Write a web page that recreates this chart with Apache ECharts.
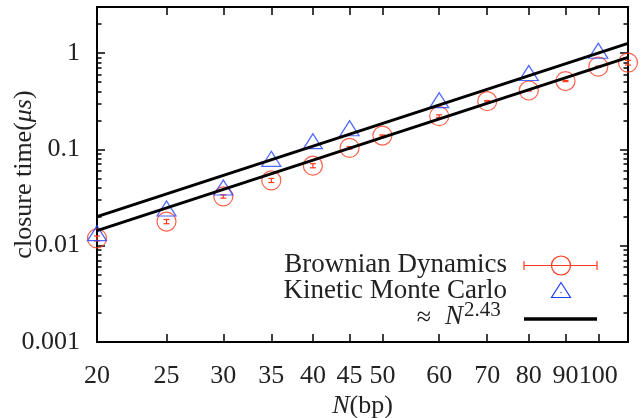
<!DOCTYPE html>
<html>
<head>
<meta charset="utf-8">
<script src="https://cdn.jsdelivr.net/npm/echarts@6/dist/echarts.min.js"></script>
<style>
  html, body { margin: 0; padding: 0; background: #fff; }
  #chart { width: 641px; height: 418px; }
</style>
</head>
<body>
<div id="chart"></div>
<script>
// Chain length N (bp) and closure times (µs)
const nBD = [20, 25, 30, 35, 40, 45, 50, 60, 70, 80, 90, 100, 110];
const timeBD = [0.0119, 0.0178, 0.0324, 0.0475, 0.0676, 0.1035, 0.139, 0.221, 0.316, 0.408, 0.511, 0.721, 0.794];
const errBD = [0.0007, 0.0009, 0.0013, 0.0023, 0.0033, 0.003, 0.002, 0.007, 0.005, 0.006, 0.007, 0.01, 0.045];

const nKMC = [20, 25, 30, 35, 40, 45, 60, 80, 100];
const timeKMC = [0.0127, 0.0229, 0.0378, 0.075, 0.1145, 0.156, 0.305, 0.583, 0.993];

// Power-law fits (~N^2.43), end points across the plotted range
const fitN = [20, 110];
const fitBD = [0.0143, 0.899];
const fitKMC = [0.0200, 1.256];

// Axis ticks
const xTicks = [20, 25, 30, 35, 40, 45, 50, 60, 70, 80, 90, 100];
const yTicks = [0.001, 0.01, 0.1, 1];
const yMinorTicks = [0.002, 0.003, 0.004, 0.005, 0.006, 0.007, 0.008, 0.009,
                     0.02, 0.03, 0.04, 0.05, 0.06, 0.07, 0.08, 0.09,
                     0.2, 0.3, 0.4, 0.5, 0.6, 0.7, 0.8, 0.9, 2, 3];

const FONT = 'Liberation Serif';
const TEXT = '#222';
const RED = '#ff3a1e';
const BLUE = '#2040ff';

const chart = echarts.init(document.getElementById('chart'), null, { renderer: 'canvas' });

function xAxisDef(pos, withLabels) {
  return {
    type: 'log', logBase: 10, min: 20, max: 110, position: pos,
    axisLine: { show: false, onZero: false },
    splitLine: { show: false },
    axisTick: { show: true, inside: true, length: 8, customValues: xTicks,
                lineStyle: { color: '#000', width: 1.5 } },
    axisLabel: {
      show: withLabels, customValues: xTicks, hideOverlap: false,
      formatter: v => String(Math.round(v)),
      fontFamily: FONT, fontSize: 26, color: TEXT, margin: 21
    },
    name: withLabels ? '{i|N}(bp)' : '',
    nameLocation: 'middle', nameGap: 51, nameMoveOverlap: false,
    nameTextStyle: { fontFamily: FONT, fontSize: 26, color: TEXT,
                     rich: { i: { fontFamily: FONT, fontSize: 26, fontStyle: 'italic', color: TEXT } } }
  };
}

function yAxisDef(pos, ticks, len, withLabels) {
  return {
    type: 'log', logBase: 10, min: 0.001, max: 3, position: pos,
    axisLine: { show: false, onZero: false },
    splitLine: { show: false },
    axisTick: { show: true, inside: true, length: len, customValues: ticks,
                lineStyle: { color: '#000', width: 1.5 } },
    axisLabel: {
      show: withLabels, customValues: yTicks, hideOverlap: false,
      formatter: v => String(v),
      fontFamily: FONT, fontSize: 26, color: TEXT, margin: 17
    },
    name: withLabels ? 'closure time({i|μs})' : '',
    nameLocation: 'middle', nameGap: 60, nameRotate: 90, nameMoveOverlap: false,
    nameTextStyle: { fontFamily: FONT, fontSize: 26, color: TEXT,
                     rich: { i: { fontFamily: FONT, fontSize: 26, fontStyle: 'italic', color: TEXT } } }
  };
}

const option = {
  animation: false,
  backgroundColor: '#fff',
  grid: { left: 97, right: 13, top: 7, bottom: 76, show: true,
          containLabel: false, outerBoundsMode: 'none',
          borderColor: '#000', borderWidth: 2, backgroundColor: 'transparent' },
  xAxis: [xAxisDef('bottom', true), xAxisDef('top', false)],
  yAxis: [
    yAxisDef('left', yTicks, 8, true),
    yAxisDef('left', yMinorTicks, 4.5, false),
    yAxisDef('right', yTicks, 8, false),
    yAxisDef('right', yMinorTicks, 4.5, false)
  ],
  series: [
    {
      name: 'Brownian Dynamics (error)',
      type: 'custom', xAxisIndex: 0, yAxisIndex: 0, z: 2,
      data: nBD.map((n, i) => [n, timeBD[i] - errBD[i], timeBD[i] + errBD[i]]),
      encode: { x: 0, y: [1, 2] },
      renderItem: function (params, api) {
        const lo = api.coord([api.value(0), api.value(1)]);
        const hi = api.coord([api.value(0), api.value(2)]);
        const w = 3;
        const st = { stroke: RED, lineWidth: 1.2 };
        return {
          type: 'group',
          children: [
            { type: 'line', shape: { x1: lo[0], y1: lo[1], x2: hi[0], y2: hi[1] }, style: st },
            { type: 'line', shape: { x1: lo[0] - w, y1: lo[1], x2: lo[0] + w, y2: lo[1] }, style: st },
            { type: 'line', shape: { x1: hi[0] - w, y1: hi[1], x2: hi[0] + w, y2: hi[1] }, style: st }
          ]
        };
      }
    },
    {
      name: 'Brownian Dynamics',
      type: 'scatter', xAxisIndex: 0, yAxisIndex: 0, z: 3, clip: false,
      data: nBD.map((n, i) => [n, timeBD[i]]),
      symbol: 'circle', symbolSize: 19,
      itemStyle: { color: 'transparent', borderColor: RED, borderWidth: 1.2 }
    },
    {
      name: 'Kinetic Monte Carlo',
      type: 'scatter', xAxisIndex: 0, yAxisIndex: 0, z: 4, clip: false,
      data: nKMC.map((n, i) => [n, timeKMC[i]]),
      symbol: 'triangle', symbolSize: [19, 15], symbolOffset: [0, -2.5],
      itemStyle: { color: 'transparent', borderColor: BLUE, borderWidth: 1.2 }
    },
    {
      name: 'fit BD',
      type: 'line', xAxisIndex: 0, yAxisIndex: 0, z: 5,
      data: fitN.map((n, i) => [n, fitBD[i]]),
      symbol: 'none', lineStyle: { color: '#000', width: 3 }
    },
    {
      name: 'fit KMC',
      type: 'line', xAxisIndex: 0, yAxisIndex: 0, z: 5,
      data: fitN.map((n, i) => [n, fitKMC[i]]),
      symbol: 'none', lineStyle: { color: '#000', width: 3 }
    }
  ],
  graphic: [
    // key: Brownian Dynamics
    { type: 'text', x: 507, y: 265,
      style: { text: 'Brownian Dynamics', font: '27px "Liberation Serif"', fill: TEXT, align: 'right', verticalAlign: 'middle' } },
    { type: 'line', shape: { x1: 524, y1: 265.5, x2: 597, y2: 265.5 }, style: { stroke: RED, lineWidth: 1.2 } },
    { type: 'line', shape: { x1: 524, y1: 261, x2: 524, y2: 270 }, style: { stroke: RED, lineWidth: 1.2 } },
    { type: 'line', shape: { x1: 597, y1: 261, x2: 597, y2: 270 }, style: { stroke: RED, lineWidth: 1.2 } },
    { type: 'circle', shape: { cx: 561, cy: 265.5, r: 9.5 }, style: { fill: 'none', stroke: RED, lineWidth: 1.2 } },
    // key: Kinetic Monte Carlo
    { type: 'text', x: 507, y: 291,
      style: { text: 'Kinetic Monte Carlo', font: '27px "Liberation Serif"', fill: TEXT, align: 'right', verticalAlign: 'middle' } },
    { type: 'polygon', shape: { points: [[561, 282.5], [551.5, 297.5], [570.5, 297.5]] },
      style: { fill: 'none', stroke: BLUE, lineWidth: 1.2 } },
    { type: 'circle', shape: { cx: 561, cy: 292.5, r: 0.7 }, style: { fill: BLUE } },
    // key: power-law fit
    { type: 'text', x: 431, y: 318,
      style: { text: '≈', font: '26px "Liberation Serif"', fill: TEXT, align: 'right', verticalAlign: 'middle' } },
    { type: 'text', x: 463, y: 317,
      style: { text: 'N', font: 'italic 27px "Liberation Serif"', fill: TEXT, align: 'right', verticalAlign: 'middle' } },
    { type: 'text', x: 464, y: 310,
      style: { text: '2.43', font: '21px "Liberation Serif"', fill: TEXT, align: 'left', verticalAlign: 'middle' } },
    { type: 'line', shape: { x1: 524, y1: 319, x2: 597, y2: 319 }, style: { stroke: '#000', lineWidth: 3.5 } }
  ]
};

chart.setOption(option);
</script>
</body>
</html>
